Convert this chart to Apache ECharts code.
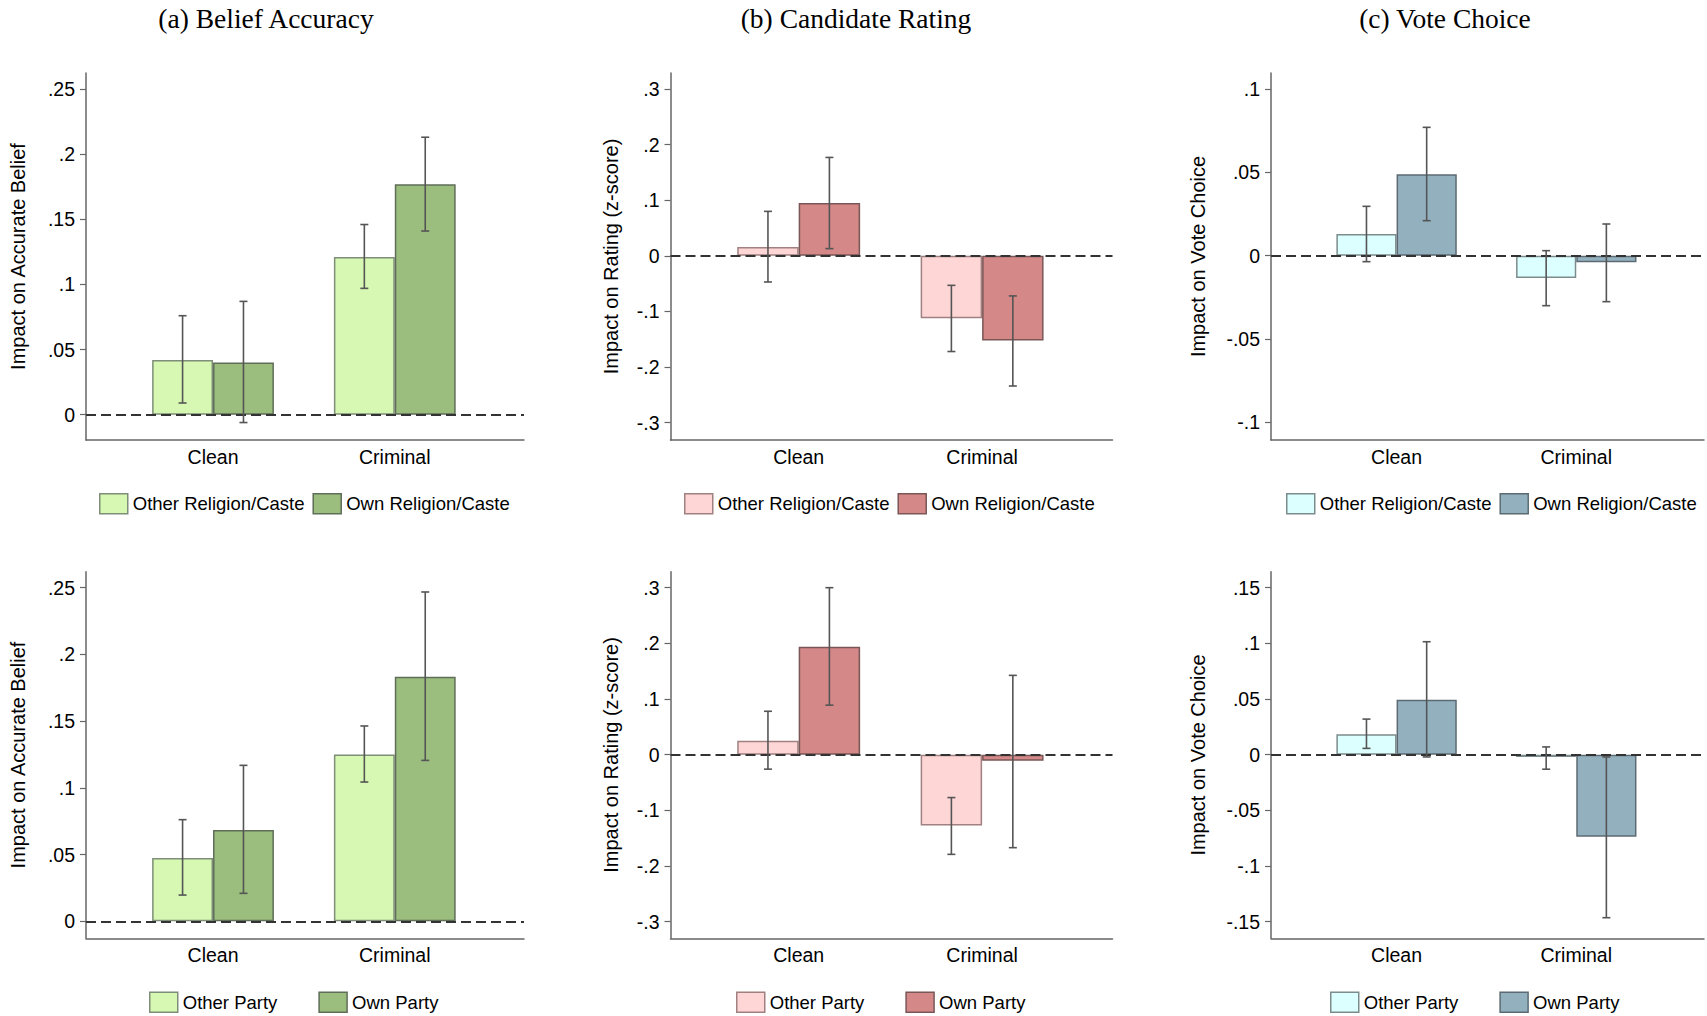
<!DOCTYPE html>
<html>
<head>
<meta charset="utf-8">
<script src="https://cdn.jsdelivr.net/npm/echarts@6/dist/echarts.min.js"></script>
<style>
  html, body { margin: 0; padding: 0; background: #fff; }
  #main { width: 1707px; height: 1016px; }
</style>
</head>
<body>
<div id="main"></div>
<script>
var categories = ['Clean', 'Criminal'];
var panelTitles = ['(a) Belief Accuracy', '(b) Candidate Rating', '(c) Vote Choice'];
var yAxisNames = ['Impact on Accurate Belief', 'Impact on Rating (z-score)', 'Impact on Vote Choice'];
var legendReligion = ['Other Religion/Caste', 'Own Religion/Caste'];
var legendParty = ['Other Party', 'Own Party'];

// tick labels
var ticksBelief = [0, 0.05, 0.1, 0.15, 0.2, 0.25];
var ticksRating = [-0.3, -0.2, -0.1, 0, 0.1, 0.2, 0.3];
var ticksVoteTop = [-0.1, -0.05, 0, 0.05, 0.1];
var ticksVoteBottom = [-0.15, -0.1, -0.05, 0, 0.05, 0.1, 0.15];

// estimates [Clean, Criminal] with 95% CI (lo, hi)
// top row: religion/caste
var beliefRelOther = [0.042, 0.121], beliefRelOtherLo = [0.009, 0.097], beliefRelOtherHi = [0.076, 0.146];
var beliefRelOwn = [0.040, 0.177], beliefRelOwnLo = [-0.006, 0.141], beliefRelOwnHi = [0.087, 0.213];
var ratingRelOther = [0.016, -0.112], ratingRelOtherLo = [-0.047, -0.172], ratingRelOtherHi = [0.080, -0.053];
var ratingRelOwn = [0.095, -0.152], ratingRelOwnLo = [0.013, -0.234], ratingRelOwnHi = [0.177, -0.072];
var voteRelOther = [0.013, -0.0134], voteRelOtherLo = [-0.0036, -0.030], voteRelOtherHi = [0.0296, 0.003];
var voteRelOwn = [0.0488, -0.004], voteRelOwnLo = [0.021, -0.0276], voteRelOwnHi = [0.077, 0.019];
// bottom row: party
var beliefPtyOther = [0.0475, 0.125], beliefPtyOtherLo = [0.0197, 0.1044], beliefPtyOtherHi = [0.0762, 0.1464];
var beliefPtyOwn = [0.0684, 0.1833], beliefPtyOwnLo = [0.021, 0.1206], beliefPtyOwnHi = [0.1169, 0.2468];
var ratingPtyOther = [0.025, -0.127], ratingPtyOtherLo = [-0.026, -0.179], ratingPtyOtherHi = [0.078, -0.077];
var ratingPtyOwn = [0.194, -0.011], ratingPtyOwnLo = [0.089, -0.167], ratingPtyOwnHi = [0.300, 0.1425];
var votePtyOther = [0.0183, -0.002], votePtyOtherLo = [0.0057, -0.013], votePtyOtherHi = [0.032, 0.007];
var votePtyOwn = [0.0494, -0.0737], votePtyOwnLo = [-0.002, -0.1464], votePtyOwnHi = [0.1015, -0.002];

var sans = 'Liberation Sans, Arial, sans-serif';
var serif = 'Liberation Serif, Times New Roman, serif';

// per column layout / colours
var colLeft = [86, 670.5, 1271];
var colWidth = [438, 442, 433];
var nameGaps = [58, 50, 63];
var fills = [['#d6f8b2', '#9bbd7e'], ['#ffd6d6', '#d48888'], ['#dcffff', '#93b0bf']];
var borders = [['#7f8e78', '#5f6e58'], ['#a08080', '#7a5656'], ['#7c8c8c', '#5c6b73']];
var titleCenters = [266, 856, 1445];
var rowTop = [73, 571.7];
var rowHeight = [367, 366.6];
var legendLefts = [[94, 679, 1281], [144, 731, 1325]];
var legendTops = [488, 986.6];
var legendGaps = [8, 41];
var barFrac = 0.335;

var panels = [
  { row: 0, col: 0, names: legendReligion, ticks: ticksBelief, min: -0.0194, max: 0.2623,
    s: [[beliefRelOther, beliefRelOtherLo, beliefRelOtherHi], [beliefRelOwn, beliefRelOwnLo, beliefRelOwnHi]] },
  { row: 0, col: 1, names: legendReligion, ticks: ticksRating, min: -0.3311, max: 0.3288,
    s: [[ratingRelOther, ratingRelOtherLo, ratingRelOtherHi], [ratingRelOwn, ratingRelOwnLo, ratingRelOwnHi]] },
  { row: 0, col: 2, names: legendReligion, ticks: ticksVoteTop, min: -0.1106, max: 0.1096,
    s: [[voteRelOther, voteRelOtherLo, voteRelOtherHi], [voteRelOwn, voteRelOwnLo, voteRelOwnHi]] },
  { row: 1, col: 0, names: legendParty, ticks: ticksBelief, min: -0.0127, max: 0.262,
    s: [[beliefPtyOther, beliefPtyOtherLo, beliefPtyOtherHi], [beliefPtyOwn, beliefPtyOwnLo, beliefPtyOwnHi]] },
  { row: 1, col: 1, names: legendParty, ticks: ticksRating, min: -0.3298, max: 0.3287,
    s: [[ratingPtyOther, ratingPtyOtherLo, ratingPtyOtherHi], [ratingPtyOwn, ratingPtyOwnLo, ratingPtyOwnHi]] },
  { row: 1, col: 2, names: legendParty, ticks: ticksVoteBottom, min: -0.1649, max: 0.1644,
    s: [[votePtyOther, votePtyOtherLo, votePtyOtherHi], [votePtyOwn, votePtyOwnLo, votePtyOwnHi]] }
];

function tickFmt(v) {
  if (Math.abs(v) < 1e-9) return '0';
  return String(+v.toFixed(3)).replace('0.', '.');
}

function errorBar(side) {
  return function (params, api) {
    var band = api.size([1, 0])[0];
    var x = api.coord([api.value(0), 0])[0] + side * band * barFrac / 2;
    var yLo = api.coord([api.value(0), api.value(1)])[1];
    var yHi = api.coord([api.value(0), api.value(2)])[1];
    var cap = 4;
    var st = { stroke: '#555', lineWidth: 1.6 };
    return {
      type: 'group',
      children: [
        { type: 'line', shape: { x1: x, y1: yLo, x2: x, y2: yHi }, style: st },
        { type: 'line', shape: { x1: x - cap, y1: yLo, x2: x + cap, y2: yLo }, style: st },
        { type: 'line', shape: { x1: x - cap, y1: yHi, x2: x + cap, y2: yHi }, style: st }
      ]
    };
  };
}

var grid = [], xAxis = [], yAxis = [], series = [], legend = [], title = [];
var axisCol = '#666';

panelTitles.forEach(function (t, c) {
  title.push({
    text: t, left: titleCenters[c] - 5, top: -1, textAlign: 'center',
    textStyle: { fontFamily: serif, fontSize: 27.5, fontWeight: 'normal', color: '#000' }
  });
});

panels.forEach(function (p, i) {
  var L = colLeft[p.col], W = colWidth[p.col];
  var top = rowTop[p.row], h = rowHeight[p.row];
  var fi = 2 * i, di = 2 * i + 1;

  // frame grid: axes lines, ticks, zero line
  grid.push({ left: L, top: top, width: W, height: h, outerBoundsMode: 'none' });
  // data grid: bars placed in category bands
  grid.push({ left: L + 0.0825 * W, top: top, width: 0.83 * W, height: h, outerBoundsMode: 'none' });

  xAxis.push({
    gridIndex: fi, type: 'value', min: 0, max: 1,
    axisLine: { show: true, onZero: false, lineStyle: { color: axisCol, width: 1.5 } },
    axisTick: { show: false }, axisLabel: { show: false }, splitLine: { show: false }
  });
  xAxis.push({
    gridIndex: di, type: 'category', data: categories,
    axisLine: { show: false, onZero: false }, axisTick: { show: false },
    axisLabel: { fontFamily: sans, fontSize: 19.5, color: '#000', margin: 7 },
    splitLine: { show: false }
  });

  yAxis.push({
    gridIndex: fi, type: 'value', min: p.min, max: p.max,
    name: yAxisNames[p.col], nameLocation: 'middle', nameGap: nameGaps[p.col], nameMoveOverlap: false,
    nameTextStyle: { fontFamily: sans, fontSize: 20, color: '#000' },
    axisLine: { show: true, onZero: false, lineStyle: { color: axisCol, width: 1.5 } },
    axisTick: { show: true, length: 6, customValues: p.ticks, lineStyle: { color: axisCol, width: 1.2 } },
    axisLabel: { customValues: p.ticks, formatter: tickFmt, fontFamily: sans, fontSize: 19.5, color: '#000', margin: 11 },
    splitLine: { show: false }
  });
  yAxis.push({ gridIndex: di, type: 'value', min: p.min, max: p.max, show: false, splitLine: { show: false } });

  series.push({
    type: 'line', xAxisIndex: fi, yAxisIndex: fi, data: [], z: 5, silent: true,
    markLine: {
      silent: true, symbol: ['none', 'none'], label: { show: false },
      lineStyle: { type: [10, 5], color: '#333', width: 1.8 },
      data: [{ yAxis: 0 }]
    }
  });

  p.s.forEach(function (sd, k) {
    series.push({
      type: 'bar', name: p.names[k], xAxisIndex: di, yAxisIndex: di,
      data: sd[0], barWidth: (barFrac * 100) + '%', barGap: '0%', z: 2,
      itemStyle: { color: fills[p.col][k], borderColor: borders[p.col][k], borderWidth: 1.5 },
      emphasis: { disabled: true }
    });
  });
  p.s.forEach(function (sd, k) {
    series.push({
      type: 'custom', xAxisIndex: di, yAxisIndex: di, z: 6, silent: true,
      renderItem: errorBar(k === 0 ? -1 : 1),
      encode: { x: 0, y: [1, 2] },
      data: categories.map(function (c, j) { return [j, sd[1][j], sd[2][j]]; })
    });
  });

  legend.push({
    left: legendLefts[p.row][p.col], top: legendTops[p.row],
    itemWidth: 28, itemHeight: 20, itemGap: legendGaps[p.row], selectedMode: false, icon: 'rect',
    textStyle: { fontFamily: sans, fontSize: 18.5, color: '#000' },
    data: p.names.map(function (n, k) {
      return { name: n, itemStyle: { color: fills[p.col][k], borderColor: borders[p.col][k], borderWidth: 1.5 } };
    })
  });
});

var myChart = echarts.init(document.getElementById('main'), null, { renderer: 'svg' });
myChart.setOption({
  animation: false,
  backgroundColor: '#fff',
  title: title,
  legend: legend,
  grid: grid,
  xAxis: xAxis,
  yAxis: yAxis,
  series: series
});
</script>
</body>
</html>
